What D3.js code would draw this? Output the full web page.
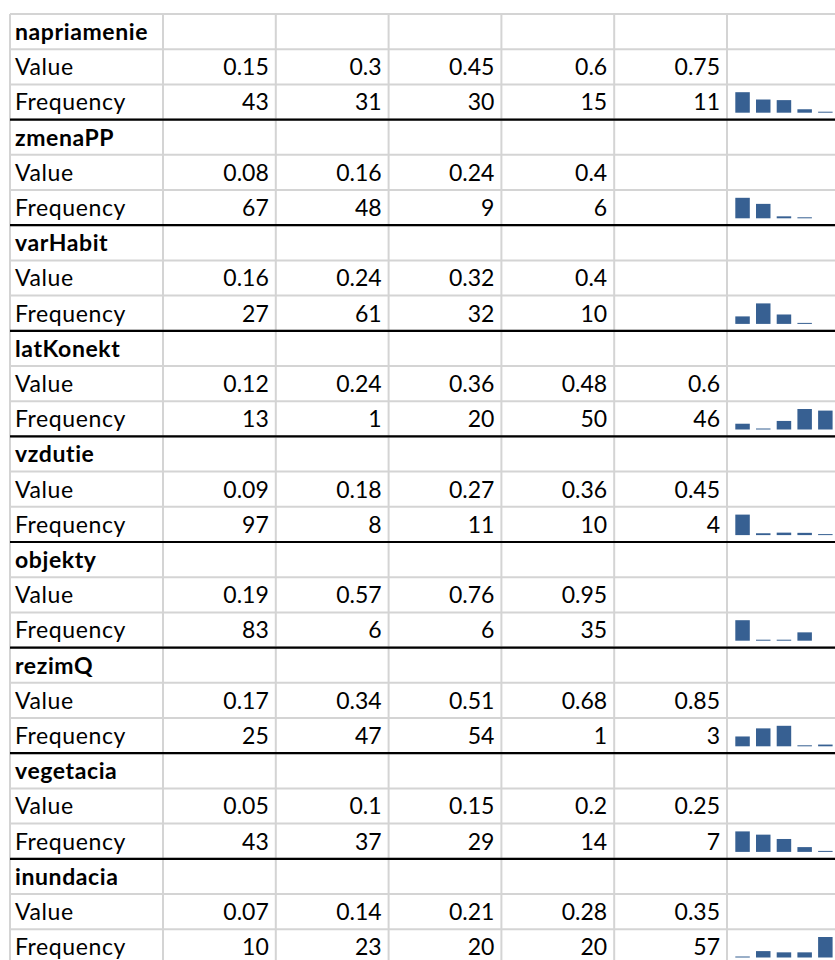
<!DOCTYPE html>
<html>
<head>
<meta charset="utf-8">
<script src="https://cdn.jsdelivr.net/npm/d3@7"></script>
<style>
  body { margin: 0; background: #fff; }
  svg { display: block; }
</style>
</head>
<body>
<div class="sheet"></div>
<script>
// variables and their histogram bins
var names = ["napriamenie", "zmenaPP", "varHabit", "latKonekt", "vzdutie",
             "objekty", "rezimQ", "vegetacia", "inundacia"];

var values = [
  [0.15, 0.3, 0.45, 0.6, 0.75],
  [0.08, 0.16, 0.24, 0.4],
  [0.16, 0.24, 0.32, 0.4],
  [0.12, 0.24, 0.36, 0.48, 0.6],
  [0.09, 0.18, 0.27, 0.36, 0.45],
  [0.19, 0.57, 0.76, 0.95],
  [0.17, 0.34, 0.51, 0.68, 0.85],
  [0.05, 0.1, 0.15, 0.2, 0.25],
  [0.07, 0.14, 0.21, 0.28, 0.35]
];

var frequencies = [
  [43, 31, 30, 15, 11],
  [67, 48, 9, 6],
  [27, 61, 32, 10],
  [13, 1, 20, 50, 46],
  [97, 8, 11, 10, 4],
  [83, 6, 6, 35],
  [25, 47, 54, 1, 3],
  [43, 37, 29, 14, 7],
  [10, 23, 20, 20, 57]
];

var rowLabels = ["Value", "Frequency"];

var w = 835, h = 960;
var top0 = 14, rowH = 35.2;
var left0 = 10, firstColW = 153, colW = 112.8;
var nCols = 7;
var nRows = names.length * 3;

var svg = d3.select("div.sheet")
  .append("svg")
  .attr("width", w)
  .attr("height", h);

var y = d3.scaleLinear().domain([0, 1]).range([top0, top0 + rowH]);
function colX(c) {
  return c == 0 ? left0 : left0 + firstColW + (c - 1) * colW;
}

var font = "Lato, 'Open Sans', sans-serif";
var fontSize = "23px";

// grid lines
var grid = svg.append("g");
grid.selectAll("line.h")
  .data(d3.range(nRows + 1))
  .enter()
  .append("line")
  .attr("x1", left0)
  .attr("x2", w + 10)
  .attr("y1", function(d) { return y(d); })
  .attr("y2", function(d) { return y(d); })
  .attr("stroke", "#d4d4d4")
  .attr("stroke-width", 2);

grid.selectAll("line.v")
  .data(d3.range(nCols + 1))
  .enter()
  .append("line")
  .attr("x1", function(d) { return colX(d); })
  .attr("x2", function(d) { return colX(d); })
  .attr("y1", top0)
  .attr("y2", h + 10)
  .attr("stroke", "#d4d4d4")
  .attr("stroke-width", 2);

// black separators under each block (except the last)
svg.selectAll("line.sep")
  .data(d3.range(1, names.length))
  .enter()
  .append("line")
  .attr("x1", left0)
  .attr("x2", w + 10)
  .attr("y1", function(d) { return y(d * 3); })
  .attr("y2", function(d) { return y(d * 3); })
  .attr("stroke", "#000")
  .attr("stroke-width", 2.2);

var blocks = svg.selectAll("g.block")
  .data(names)
  .enter()
  .append("g")
  .attr("class", "block");

blocks.each(function(name, b) {
  var g = d3.select(this);
  var r0 = b * 3;

  g.append("text")
    .text(name)
    .attr("x", left0 + 5)
    .attr("y", y(r0) + 26)
    .attr("font-family", font)
    .attr("font-size", fontSize)
    .attr("font-weight", "bold")
    .attr("letter-spacing", "0.6px")
    .attr("fill", "#000");

  rowLabels.forEach(function(lbl, k) {
    g.append("text")
      .text(lbl)
      .attr("x", left0 + 5)
      .attr("y", y(r0 + 1 + k) + 26)
      .attr("font-family", font)
      .attr("font-size", fontSize)
      .attr("letter-spacing", "0.6px")
      .attr("fill", "#000");
  });

  [values[b], frequencies[b]].forEach(function(arr, k) {
    g.selectAll("text.n" + k)
      .data(arr)
      .enter()
      .append("text")
      .text(function(d) { return d; })
      .attr("text-anchor", "end")
      .attr("x", function(d, i) { return colX(i + 2) - 7; })
      .attr("y", y(r0 + 1 + k) + 26)
      .attr("font-family", font)
      .attr("font-size", fontSize)
      .attr("fill", "#000");
  });

  // sparkline columns in the last cell
  var freq = frequencies[b];
  var cell = colX(6);
  var bx = d3.scaleBand()
    .domain(d3.range(5))
    .range([cell + 5.2, cell + 108.7])
    .paddingInner(0.3)
    .paddingOuter(0.15);
  var bh = d3.scaleLinear()
    .domain(d3.extent(freq))
    .range([1, 20.5]);
  var base = y(r0 + 2) + 28.3;

  g.selectAll("rect")
    .data(freq)
    .enter()
    .append("rect")
    .attr("x", function(d, i) { return bx(i); })
    .attr("y", function(d) { return base - bh(d); })
    .attr("width", bx.bandwidth())
    .attr("height", function(d) { return bh(d); })
    .attr("fill", "#376092");
});
</script>
</body>
</html>
